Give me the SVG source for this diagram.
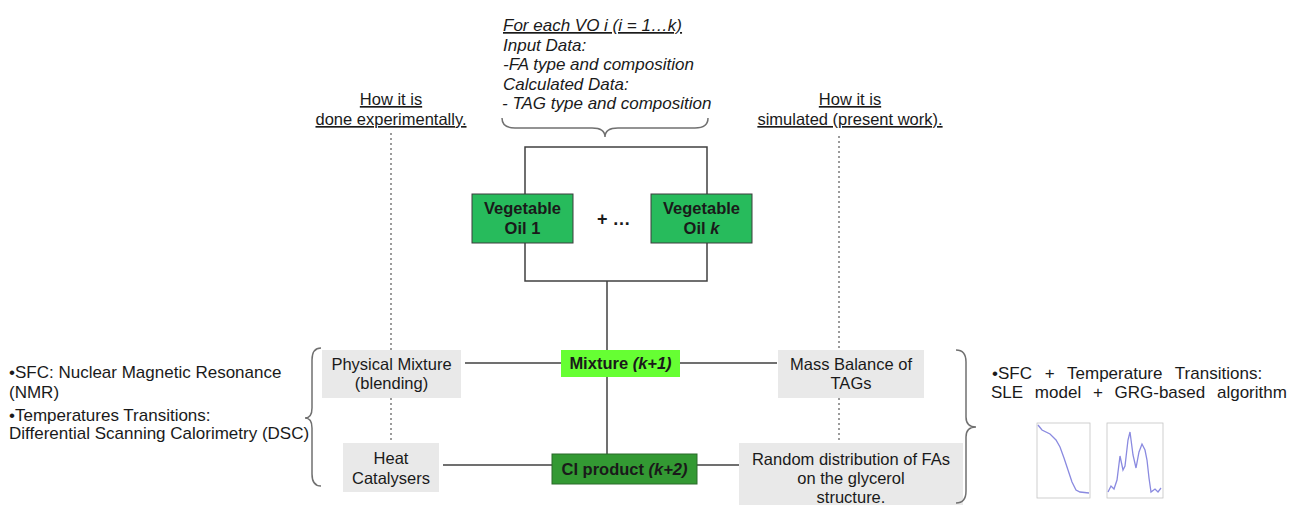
<svg xmlns="http://www.w3.org/2000/svg" width="1292" height="507" viewBox="0 0 1292 507">
  <style>
    text { font-family: "Liberation Sans", Arial, sans-serif; fill: #1a1a1a; }
    .it { font-style: italic; font-size: 17px; }
    .hdr { font-size: 16.5px; text-decoration: underline; text-anchor: middle; }
    .lbl { font-size: 16.5px; text-anchor: middle; }
    .bold { font-weight: bold; }
    .side { font-size: 17px; }
    .conn { stroke: #404040; stroke-width: 1.5; fill: none; }
    .dot { stroke: #7a7a7a; stroke-width: 1.5; stroke-dasharray: 2 3; fill: none; }
    .brace { stroke: #707070; stroke-width: 1.5; fill: none; }
    .grey { fill: #e9e9e9; }
    .veg { fill: #27bb5c; stroke: #3c3c3c; stroke-width: 1; }
    .axis { stroke: #c4c4c4; stroke-width: 0.8; fill: none; }
    .curve { stroke: #8a8ae0; stroke-width: 1.3; fill: none; }
  </style>

  <!-- headers -->
  <g id="header-input">
    <text class="it" x="503" y="31" text-decoration="underline">For each VO i (i = 1…k)</text>
    <text class="it" x="503" y="50.5">Input Data:</text>
    <text class="it" x="503" y="70">-FA type and composition</text>
    <text class="it" x="503" y="89.5">Calculated Data:</text>
    <text class="it" x="502" y="109">- TAG type and composition</text>
    <path class="brace" d="M502,118 Q502,128 515,128 L592,128 Q605,128 605,137 Q605,128 618,128 L695,128 Q708,128 708,118"/>
  </g>
  <g id="header-experimental">
    <text class="hdr" x="391" y="105">How it is</text>
    <text class="hdr" x="391" y="125">done experimentally.</text>
  </g>
  <g id="header-simulated">
    <text class="hdr" x="850" y="105">How it is</text>
    <text class="hdr" x="850" y="125">simulated (present work).</text>
  </g>

  <!-- connectors -->
  <g id="connectors">
    <path class="conn" d="M525,194 L525,147 L707,147 L707,194"/>
    <path class="conn" d="M525,243 L525,281 L707,281 L707,243"/>
    <path class="conn" d="M607,281 L607,350"/>
    <path class="conn" d="M607,377 L607,454"/>
    <path class="conn" d="M465,363 L561,363"/>
    <path class="conn" d="M680,363 L777,363"/>
    <path class="conn" d="M443,465 L552,465"/>
    <path class="conn" d="M697,465 L739,465"/>
    <path class="dot" d="M391,133 L391,350"/>
    <path class="dot" d="M391,398 L391,443"/>
    <path class="dot" d="M839,136 L839,350"/>
    <path class="dot" d="M839,398 L839,443"/>
  </g>

  <!-- vegetable oils -->
  <g id="oil-1">
    <rect class="veg" x="472" y="194" width="101" height="49"/>
    <text class="lbl bold" x="522.5" y="214">Vegetable</text>
    <text class="lbl bold" x="522.5" y="234">Oil 1</text>
  </g>
  <g id="plus">
    <text x="597" y="225" style="font-size:18px;font-weight:bold">+ …</text>
  </g>
  <g id="oil-k">
    <rect class="veg" x="651" y="194" width="101" height="49"/>
    <text class="lbl bold" x="701.5" y="214">Vegetable</text>
    <text class="lbl bold" x="701.5" y="234">Oil <tspan font-style="italic">k</tspan></text>
  </g>

  <!-- mixture and product -->
  <g id="mixture">
    <rect x="561" y="350" width="119" height="27" fill="#66ff33"/>
    <text class="lbl bold" x="620.5" y="369">Mixture <tspan font-style="italic">(k+1)</tspan></text>
  </g>
  <g id="ci-product">
    <rect x="552" y="454" width="145" height="30" fill="#339933" stroke="#2a6a2a" stroke-width="1"/>
    <text class="lbl bold" x="624.5" y="475">CI product <tspan font-style="italic">(k+2)</tspan></text>
  </g>

  <!-- experimental side -->
  <g id="physical-mixture">
    <rect class="grey" x="322" y="350" width="139" height="48"/>
    <text class="lbl" x="391.5" y="370">Physical Mixture</text>
    <text class="lbl" x="391.5" y="389">(blending)</text>
  </g>
  <g id="heat-catalysers">
    <rect class="grey" x="343" y="443" width="96" height="49"/>
    <text class="lbl" x="391" y="464">Heat</text>
    <text class="lbl" x="391" y="484">Catalysers</text>
  </g>

  <!-- simulated side -->
  <g id="mass-balance">
    <rect class="grey" x="778" y="350" width="146" height="48"/>
    <text class="lbl" x="851" y="370">Mass Balance of</text>
    <text class="lbl" x="851" y="389">TAGs</text>
  </g>
  <g id="random-distribution">
    <rect class="grey" x="739" y="443" width="224" height="62"/>
    <text class="lbl" x="851" y="465">Random distribution of FAs</text>
    <text class="lbl" x="851" y="484">on the glycerol</text>
    <text class="lbl" x="851" y="503">structure.</text>
  </g>

  <!-- measurement methods -->
  <g id="methods-experimental">
    <text class="side" x="9" y="378">•SFC: Nuclear Magnetic Resonance</text>
    <text class="side" x="9" y="398">(NMR)</text>
    <text class="side" x="9" y="421">•Temperatures Transitions:</text>
    <text class="side" x="9" y="439">Differential Scanning Calorimetry (DSC)</text>
    <path class="brace" d="M321,348 Q312,348 312,360 L312,408 Q312,418 305,418 Q312,418 312,428 L312,474 Q312,486 321,486"/>
  </g>
  <g id="methods-simulated">
    <path class="brace" d="M956,350 Q966,350 966,362 L966,417 Q966,427 976,427 Q966,427 966,437 L966,491 Q966,503 956,503"/>
    <text class="side" x="992" y="379" style="word-spacing:8px">•SFC + Temperature Transitions:</text>
    <text class="side" x="991" y="398" style="word-spacing:7px">SLE model + GRG-based algorithm</text>
  </g>

  <!-- result plots -->
  <g id="plot-sfc">
    <rect class="axis" x="1037" y="423" width="53" height="75"/>
    <path class="curve" d="M1038,425 L1042,430 L1050,434 L1056,440 L1060,447 L1064,458 L1068,470 L1072,482 L1076,490 L1080,492 L1089,493"/>
  </g>
  <g id="plot-dsc">
    <rect class="axis" x="1107" y="423" width="56" height="75"/>
    <path class="curve" d="M1108,492 L1111,486 L1114,489 L1117,480 L1120,456 L1123,470 L1125,466 L1128,440 L1130,432 L1133,455 L1136,468 L1139,452 L1142,444 L1145,450 L1147,460 L1149,478 L1151,492 L1155,489 L1158,492 L1161,488"/>
  </g>
</svg>
